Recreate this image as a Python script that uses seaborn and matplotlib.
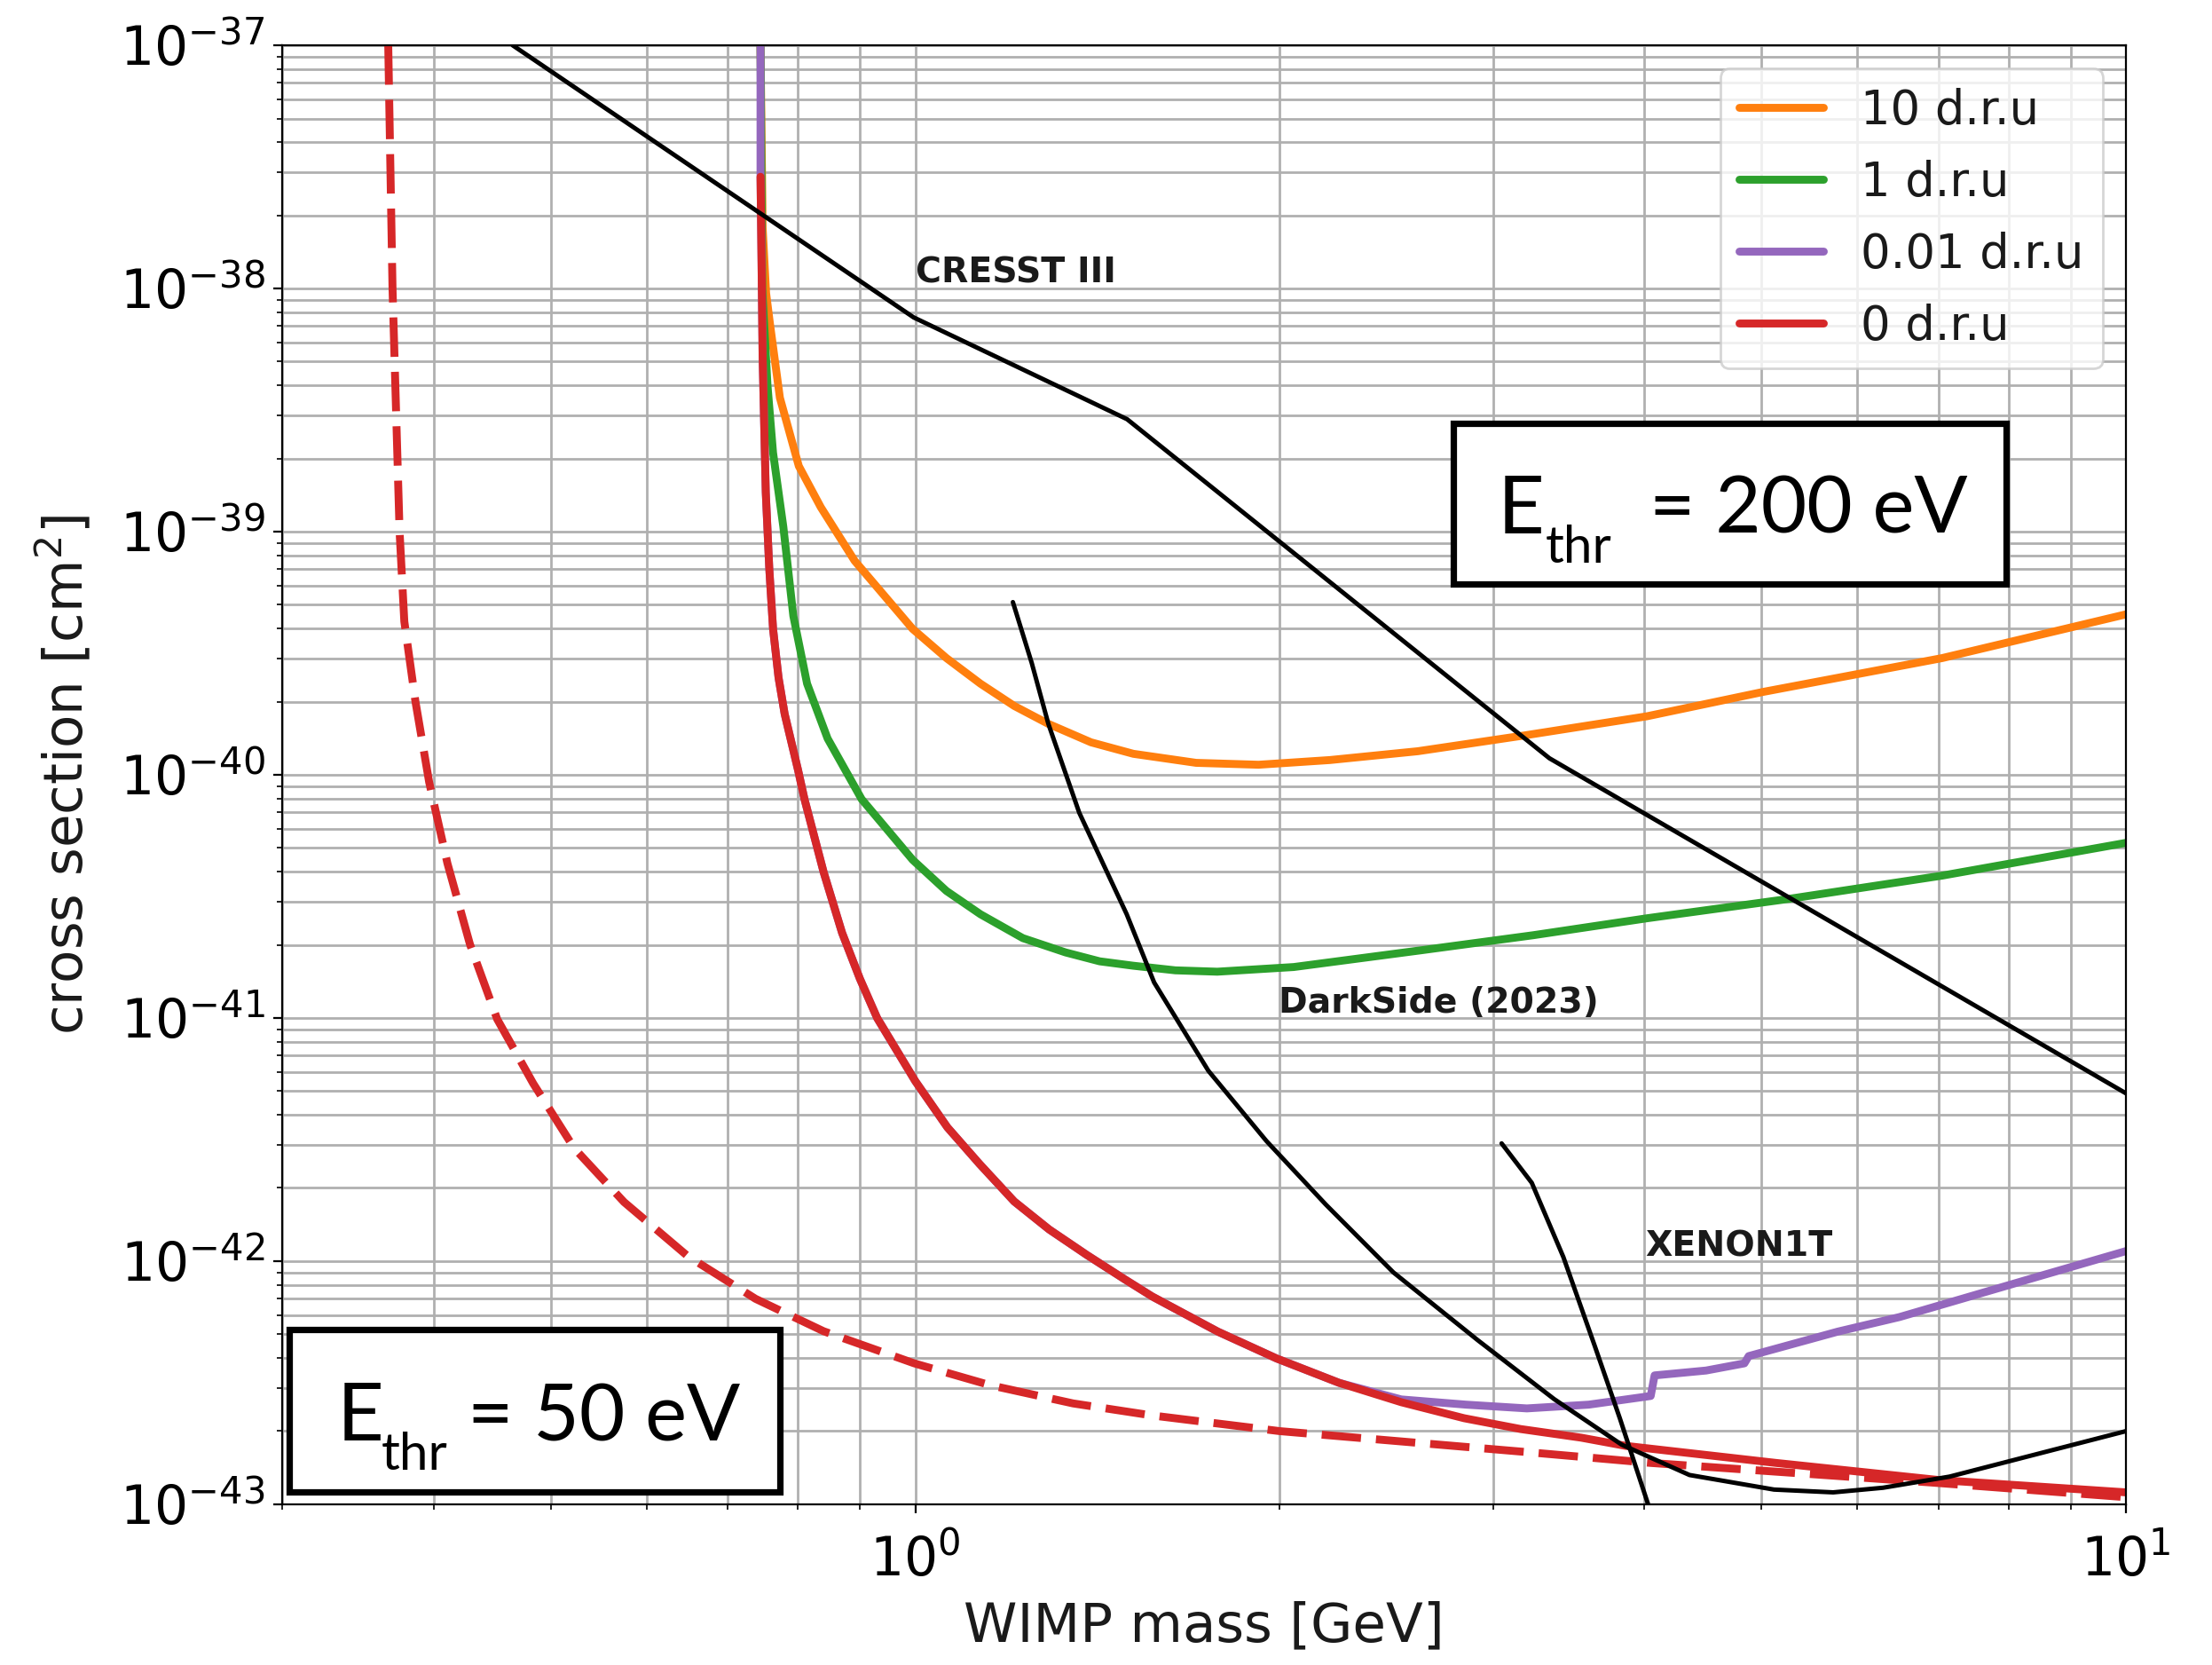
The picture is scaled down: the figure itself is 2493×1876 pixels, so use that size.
import matplotlib
matplotlib.use("Agg")
import matplotlib.pyplot as plt
from matplotlib.patches import Rectangle
import seaborn as sns

# WIMP mass [GeV] / cross section [cm^2]
# E_thr = 200 eV curves for different background levels
mass_10dru = [0.745, 0.748, 0.753, 0.7585, 0.773, 0.8013, 0.8355, 0.891, 0.995, 1.061, 1.132, 1.207, 1.288,
              1.397, 1.514, 1.706, 1.921, 2.2, 2.6, 3.18, 4.02, 5.01, 7.05, 10.0]
xsec_10dru = [1e-37, 1.78e-38, 9.55e-39, 7.16e-39, 3.55e-39, 1.86e-39, 1.26e-39, 7.59e-40, 3.98e-40, 3.02e-40,
              2.37e-40, 1.92e-40, 1.62e-40, 1.36e-40, 1.22e-40, 1.12e-40, 1.10e-40, 1.15e-40, 1.25e-40,
              1.45e-40, 1.74e-40, 2.19e-40, 3.02e-40, 4.57e-40]

mass_1dru = [0.745, 0.7475, 0.755, 0.763, 0.778, 0.793, 0.814, 0.8464, 0.903, 0.995, 1.061, 1.132, 1.227, 1.331,
             1.42, 1.514, 1.64, 1.776, 2.054, 2.62, 3.24, 4.02, 5.27, 7.05, 10.0]
xsec_1dru = [1e-37, 1e-38, 3.98e-39, 2.11e-39, 1.05e-39, 4.5e-40, 2.37e-40, 1.41e-40, 7.94e-41, 4.47e-41, 3.33e-41,
             2.67e-41, 2.13e-41, 1.86e-41, 1.71e-41, 1.64e-41, 1.57e-41, 1.55e-41, 1.62e-41, 1.9e-41, 2.19e-41,
             2.57e-41, 3.09e-41, 3.85e-41, 5.25e-41]

mass_001dru = [0.745, 0.745, 0.7465, 0.748, 0.7525, 0.7575, 0.763, 0.771, 0.78, 0.80, 0.81, 0.84, 0.87, 0.90,
               0.93, 1.0, 1.063, 1.13, 1.207, 1.29, 1.386, 1.49, 1.569, 1.778, 1.988, 2.239, 2.52, 2.85, 3.2,
               3.6, 4.05, 4.08, 4.5, 4.84, 4.88, 5.78, 6.5, 7.32, 8.5, 10.0]
xsec_001dru = [1e-37, 2.88e-38, 1.26e-38, 5.25e-39, 1.45e-39, 7.08e-40, 3.98e-40, 2.51e-40, 1.78e-40, 1.05e-40,
               7.94e-41, 3.98e-41, 2.24e-41, 1.45e-41, 1.0e-41, 5.5e-42, 3.55e-42, 2.51e-42, 1.76e-42, 1.35e-42,
               1.06e-42, 8.41e-43, 7.16e-43, 5.13e-43, 3.98e-43, 3.16e-43, 2.7e-43, 2.57e-43, 2.48e-43,
               2.57e-43, 2.79e-43, 3.39e-43, 3.55e-43, 3.8e-43, 4.07e-43, 5.13e-43, 5.89e-43, 7.0e-43,
               8.7e-43, 1.1e-42]

mass_0dru = [0.745, 0.7465, 0.748, 0.7525, 0.7575, 0.763, 0.771, 0.78, 0.80, 0.81, 0.84, 0.87, 0.90, 0.93, 1.0,
             1.063, 1.13, 1.207, 1.29, 1.386, 1.49, 1.569, 1.778, 1.988, 2.239, 2.52, 2.84, 3.162, 3.548, 3.86,
             5.14, 6.99, 10.0]
xsec_0dru = [2.88e-38, 1.26e-38, 5.25e-39, 1.45e-39, 7.08e-40, 3.98e-40, 2.51e-40, 1.78e-40, 1.05e-40, 7.94e-41,
             3.98e-41, 2.24e-41, 1.45e-41, 1.0e-41, 5.5e-42, 3.55e-42, 2.51e-42, 1.76e-42, 1.35e-42, 1.06e-42,
             8.41e-43, 7.16e-43, 5.13e-43, 3.98e-43, 3.16e-43, 2.63e-43, 2.26e-43, 2.04e-43, 1.88e-43,
             1.74e-43, 1.48e-43, 1.26e-43, 1.12e-43]

# E_thr = 50 eV, 0 d.r.u (dashed)
mass_50ev = [0.367, 0.370, 0.375, 0.3784, 0.3865, 0.3967, 0.4107, 0.4287, 0.4515, 0.4836, 0.5228, 0.5747, 0.6485,
             0.738, 0.840, 0.998, 1.153, 1.35, 1.569, 2.0, 2.5, 3.2, 4.05, 6.9, 10.0]
xsec_50ev = [1e-37, 1e-38, 1e-39, 4.27e-40, 2.0e-40, 9.33e-41, 4.33e-41, 2.01e-41, 9.89e-42, 5.37e-42, 2.91e-42,
             1.75e-42, 1.05e-42, 7.0e-43, 5.15e-43, 3.8e-43, 3.09e-43, 2.6e-43, 2.32e-43, 2.0e-43, 1.82e-43,
             1.64e-43, 1.48e-43, 1.23e-43, 1.07e-43]

# existing limits
mass_cresst = [0.465, 0.997, 1.496, 3.34, 10.0]
xsec_cresst = [1e-37, 7.6e-39, 2.9e-39, 1.17e-40, 4.9e-42]

mass_darkside = [1.204, 1.248, 1.288, 1.366, 1.495, 1.575, 1.746, 1.95, 2.183, 2.482, 2.915, 3.37, 3.832, 4.36,
                 5.12, 5.73, 6.3, 7.15, 10.0]
xsec_darkside = [5.13e-40, 2.88e-40, 1.62e-40, 6.98e-41, 2.67e-41, 1.4e-41, 6.07e-42, 3.12e-42, 1.71e-42, 9.0e-43,
                 4.73e-43, 2.71e-43, 1.76e-43, 1.32e-43, 1.15e-43, 1.12e-43, 1.17e-43, 1.3e-43, 2.0e-43]

mass_xenon = [3.05, 3.23, 3.43, 3.64, 3.82, 4.03, 4.06]
xsec_xenon = [3.05e-42, 2.1e-42, 1.04e-42, 4.5e-43, 2.25e-43, 1.0e-43, 9e-44]

sns.set_style("ticks")
plt.rcParams["font.family"] = ["DejaVu Sans"]
plt.rcParams["axes.edgecolor"] = "black"
plt.rcParams["xtick.color"] = "black"
plt.rcParams["ytick.color"] = "black"
plt.rcParams["text.color"] = "0.1"
plt.rcParams["axes.labelcolor"] = "0.1"

fig, ax = plt.subplots(figsize=(12.465, 9.38), dpi=200)
fig.subplots_adjust(left=0.1276, right=0.9611, bottom=0.0965, top=0.9728)
ax.set_xscale("log")
ax.set_yscale("log")

lw = 3.2
sns.lineplot(x=mass_10dru, y=xsec_10dru, ax=ax, color="tab:orange", linewidth=lw,
             estimator=None, sort=False, label="10 d.r.u")
sns.lineplot(x=mass_1dru, y=xsec_1dru, ax=ax, color="tab:green", linewidth=lw,
             estimator=None, sort=False, label="1 d.r.u")
sns.lineplot(x=mass_001dru, y=xsec_001dru, ax=ax, color="tab:purple", linewidth=lw,
             estimator=None, sort=False, label="0.01 d.r.u")
sns.lineplot(x=mass_0dru, y=xsec_0dru, ax=ax, color="tab:red", linewidth=lw,
             estimator=None, sort=False, label="0 d.r.u")
sns.lineplot(x=mass_50ev, y=xsec_50ev, ax=ax, color="tab:red", linewidth=lw,
             linestyle=(0, (5, 1.9)), estimator=None, sort=False)

for m, s in [(mass_cresst, xsec_cresst), (mass_darkside, xsec_darkside), (mass_xenon, xsec_xenon)]:
    sns.lineplot(x=m, y=s, ax=ax, color="black", linewidth=1.8, estimator=None, sort=False, zorder=3)

ax.text(1.0, 1.16e-38, "CRESST III", fontsize=14.2, fontweight="bold", va="center", ha="left")
ax.text(1.995, 1.15e-41, "DarkSide (2023)", fontsize=14.2, fontweight="bold", va="center", ha="left")
ax.text(4.01, 1.15e-42, "XENON1T", fontsize=14.2, fontweight="bold", va="center", ha="left")

ax.set_xlim(0.3, 10)
ax.set_ylim(1e-43, 1e-37)
ax.set_axisbelow(True)
ax.grid(True, which="both", color="#b0b0b0", linewidth=1.0)
ax.tick_params(labelsize=21.5)
ax.tick_params(axis="x", which="major", pad=9)
ax.set_xlabel("WIMP mass [GeV]", fontsize=22, labelpad=5)
ax.set_ylabel("cross section [cm$^{2}$]", fontsize=22, labelpad=10)

ax.legend(loc="upper right", fontsize=19, labelspacing=0.55, handlelength=1.8)

# threshold boxes
box_font = dict(family="Lato", color="black", va="baseline", ha="left", zorder=6, transform=ax.transAxes)
ax.add_patch(Rectangle((0.635, 0.631), 0.300, 0.110, transform=ax.transAxes, facecolor="white",
                       edgecolor="black", linewidth=2.6, zorder=5))
ax.text(0.659, 0.6655, "E", fontsize=33, **box_font)
ax.text(0.685, 0.6455, "thr", fontsize=21, **box_font)
ax.text(0.7415, 0.6655, "= 200 eV", fontsize=32, **box_font)

ax.add_patch(Rectangle((0.004, 0.0085), 0.266, 0.1115, transform=ax.transAxes, facecolor="white",
                       edgecolor="black", linewidth=2.6, zorder=5))
ax.text(0.0294, 0.0435, "E", fontsize=33, **box_font)
ax.text(0.0535, 0.0235, "thr", fontsize=21, **box_font)
ax.text(0.1006, 0.0435, "= 50 eV", fontsize=32, **box_font)

fig.savefig("out.png", dpi=200)
